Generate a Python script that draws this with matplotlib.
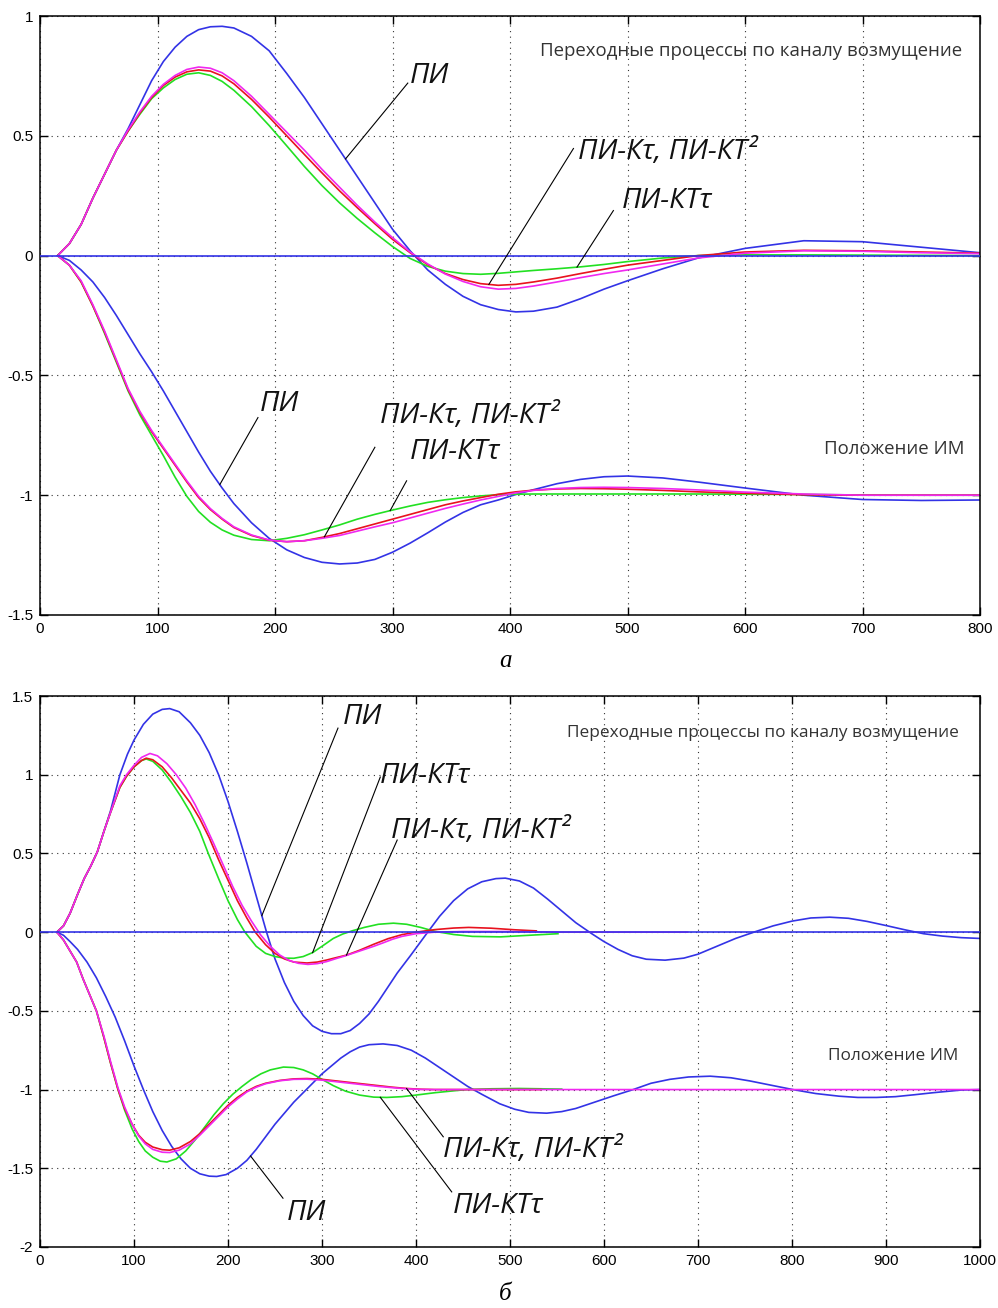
import numpy as np
import matplotlib
matplotlib.use("Agg")
import matplotlib.pyplot as plt

plt.rcParams['axes.unicode_minus'] = False

# ---- panel a: disturbance channel (upper group) ----
ta = [15, 25, 35, 45, 55, 65, 75, 85, 95, 105, 115, 125, 135, 145, 155, 165, 180, 195, 210, 225,
      240, 255, 270, 285, 300, 315, 330, 345, 360, 375, 390, 405, 420, 440, 460, 480, 500, 530, 560, 600,
      650, 700, 750, 800]

a_dist_pi = [0, 0.05, 0.13, 0.24, 0.34, 0.44, 0.53, 0.63, 0.73, 0.81, 0.87, 0.915, 0.943, 0.955, 0.957, 0.95, 0.915, 0.855, 0.76, 0.66,
             0.55, 0.44, 0.33, 0.22, 0.11, 0.02, -0.06, -0.12, -0.17, -0.205, -0.225, -0.235, -0.232, -0.215, -0.18, -0.14, -0.105, -0.055, -0.01, 0.03,
             0.062, 0.058, 0.035, 0.012]
a_dist_kt2 = [0, 0.05, 0.13, 0.24, 0.34, 0.44, 0.525, 0.60, 0.665, 0.715, 0.752, 0.777, 0.787, 0.782, 0.763, 0.73, 0.665, 0.59, 0.515, 0.44,
              0.36, 0.285, 0.21, 0.14, 0.075, 0.015, -0.035, -0.077, -0.108, -0.13, -0.14, -0.137, -0.127, -0.11, -0.092, -0.075, -0.06, -0.035, -0.01, 0.01,
              0.02, 0.018, 0.012, 0.008]
a_dist_ktau = [0, 0.05, 0.13, 0.24, 0.34, 0.44, 0.52, 0.595, 0.66, 0.71, 0.745, 0.767, 0.775, 0.77, 0.75, 0.717, 0.652, 0.578, 0.5, 0.422,
               0.345, 0.27, 0.2, 0.133, 0.068, 0.012, -0.038, -0.075, -0.1, -0.117, -0.124, -0.12, -0.11, -0.094, -0.075, -0.057, -0.04, -0.02, 0.0, 0.015,
               0.022, 0.02, 0.015, 0.01]
a_dist_kttau = [0, 0.05, 0.13, 0.24, 0.34, 0.44, 0.52, 0.59, 0.655, 0.70, 0.735, 0.757, 0.763, 0.752, 0.727, 0.69, 0.622, 0.543, 0.458, 0.372,
                0.292, 0.22, 0.155, 0.095, 0.038, -0.012, -0.045, -0.065, -0.075, -0.078, -0.074, -0.068, -0.062, -0.055, -0.047, -0.037, -0.025, -0.01, 0.0, 0.003,
                0.003, 0.002, 0.001, 0.0]

# ---- panel a: actuator position (lower group) ----
a_pos_pi = [0, -0.02, -0.06, -0.11, -0.175, -0.25, -0.33, -0.41, -0.485, -0.565, -0.65, -0.735, -0.82, -0.9, -0.97, -1.035, -1.115, -1.18, -1.228, -1.26,
            -1.28, -1.287, -1.283, -1.268, -1.238, -1.2, -1.157, -1.112, -1.072, -1.04, -1.02, -0.997, -0.977, -0.952, -0.934, -0.923, -0.92, -0.928, -0.945, -0.97,
            -1.0, -1.018, -1.022, -1.02]
a_pos_ktau = [0, -0.04, -0.11, -0.21, -0.32, -0.44, -0.56, -0.655, -0.735, -0.805, -0.875, -0.945, -1.01, -1.06, -1.1, -1.135, -1.168, -1.188, -1.194, -1.19,
              -1.176, -1.16, -1.14, -1.12, -1.1, -1.08, -1.06, -1.04, -1.024, -1.01, -0.996, -0.986, -0.979, -0.974, -0.972, -0.973, -0.975, -0.98, -0.986, -0.992,
              -0.998, -1.0, -1.0, -1.0]
a_pos_kt2 = [0, -0.04, -0.105, -0.205, -0.315, -0.435, -0.555, -0.65, -0.73, -0.8, -0.87, -0.94, -1.005, -1.056, -1.097, -1.132, -1.166, -1.187, -1.194, -1.19,
             -1.18, -1.168, -1.15, -1.132, -1.115, -1.095, -1.075, -1.055, -1.037, -1.02, -1.005, -0.99, -0.98, -0.972, -0.968, -0.967, -0.968, -0.972, -0.978, -0.987,
             -0.995, -1.0, -1.0, -1.0]
a_pos_kttau = [0, -0.04, -0.11, -0.21, -0.325, -0.445, -0.565, -0.665, -0.75, -0.835, -0.925, -1.005, -1.068, -1.113, -1.145, -1.167, -1.185, -1.19, -1.18, -1.165,
               -1.145, -1.124, -1.1, -1.08, -1.062, -1.045, -1.03, -1.019, -1.01, -1.003, -0.998, -0.996, -0.995, -0.995, -0.995, -0.995, -0.995, -0.995, -0.995, -0.996,
               -0.997, -0.999, -1.0, -1.0]

# ---- panel b: disturbance channel ----
tb_pi = [18, 25, 32, 40, 47, 54, 61, 68, 75, 85, 93, 100, 110, 120, 130, 138, 148, 160, 170, 180,
         190, 200, 210, 220, 230, 241, 250, 260, 270, 280, 290, 300, 310, 320, 330, 340, 350, 360, 370, 380,
         394, 410, 425, 440, 455, 470, 485, 495, 510, 525, 540, 555, 570, 587, 600, 615, 630, 645, 665, 685,
         700, 720, 740, 762, 780, 800, 820, 840, 860, 880, 900, 920, 940, 960, 980, 1000]
b_dist_pi = [0, 0.04, 0.12, 0.24, 0.34, 0.42, 0.51, 0.64, 0.77, 1.0, 1.13, 1.22, 1.32, 1.385, 1.415, 1.42, 1.40, 1.33, 1.25, 1.14,
             1.0, 0.83, 0.64, 0.44, 0.23, 0.0, -0.17, -0.32, -0.44, -0.53, -0.595, -0.63, -0.645, -0.645, -0.625, -0.58, -0.52, -0.44, -0.35, -0.26,
             -0.15, -0.02, 0.1, 0.2, 0.275, 0.32, 0.34, 0.343, 0.325, 0.28, 0.21, 0.135, 0.06, -0.01, -0.06, -0.11, -0.15, -0.172, -0.178, -0.165,
             -0.14, -0.09, -0.04, 0.005, 0.04, 0.07, 0.09, 0.095, 0.088, 0.068, 0.042, 0.015, -0.01, -0.025, -0.035, -0.04]

tb_kt2 = [18, 25, 32, 40, 47, 54, 61, 68, 75, 85, 92, 100, 108, 117, 125, 135, 145, 155, 165, 175,
          185, 195, 205, 215, 225, 235, 245, 255, 265, 275, 285, 295, 305, 315, 325, 335, 345, 355, 365, 375,
          385, 400, 420, 450, 500, 550, 600, 689]
b_dist_kt2 = [0, 0.04, 0.12, 0.24, 0.34, 0.42, 0.51, 0.64, 0.76, 0.93, 1.0, 1.06, 1.11, 1.135, 1.12, 1.07, 1.0, 0.915, 0.81, 0.69,
              0.56, 0.425, 0.29, 0.17, 0.07, -0.02, -0.09, -0.145, -0.18, -0.198, -0.205, -0.2, -0.187, -0.168, -0.15, -0.13, -0.11, -0.09, -0.068, -0.045,
              -0.027, -0.01, 0.0, 0.004, 0.004, 0.0, 0.0, 0.0]

tb_ktau = [18, 25, 32, 40, 47, 54, 61, 68, 75, 85, 92, 100, 108, 113, 120, 130, 140, 150, 160, 170,
           180, 190, 200, 210, 220, 229, 240, 250, 260, 270, 284, 295, 305, 315, 326, 340, 355, 370, 385, 400,
           420, 440, 456, 480, 505, 528]
b_dist_ktau = [0, 0.04, 0.12, 0.24, 0.34, 0.42, 0.51, 0.64, 0.76, 0.92, 0.99, 1.05, 1.09, 1.105, 1.095, 1.05, 0.98, 0.9, 0.82, 0.72,
               0.6, 0.46, 0.33, 0.2, 0.09, 0.0, -0.08, -0.135, -0.17, -0.19, -0.196, -0.19, -0.177, -0.162, -0.146, -0.115, -0.077, -0.042, -0.016, 0.0,
               0.016, 0.026, 0.03, 0.025, 0.015, 0.008]

tb_kttau = [18, 25, 32, 40, 47, 54, 61, 68, 75, 85, 92, 100, 108, 113, 120, 130, 140, 150, 160, 170,
            179, 190, 200, 210, 218, 230, 240, 250, 260, 270, 280, 290, 300, 312, 322, 333, 345, 360, 376, 390,
            405, 420, 440, 460, 490, 520, 551]
b_dist_kttau = [0, 0.04, 0.12, 0.24, 0.34, 0.42, 0.51, 0.64, 0.76, 0.92, 0.99, 1.05, 1.09, 1.1, 1.085, 1.03, 0.95, 0.86, 0.76, 0.64,
                0.5, 0.34, 0.2, 0.08, 0.0, -0.09, -0.135, -0.155, -0.165, -0.166, -0.155, -0.13, -0.09, -0.04, -0.012, 0.01, 0.03, 0.05, 0.057, 0.05,
                0.03, 0.005, -0.015, -0.027, -0.03, -0.02, -0.01]

# ---- panel b: actuator position ----
tbp_pi = [18, 25, 32, 40, 50, 60, 70, 80, 90, 100, 110, 120, 130, 140, 150, 160, 170, 180, 188, 198,
          210, 220, 230, 240, 250, 260, 270, 280, 290, 300, 310, 320, 330, 340, 350, 365, 380, 395, 410, 425,
          440, 455, 470, 489, 505, 520, 539, 555, 570, 590, 610, 631, 650, 670, 690, 713, 735, 755, 780, 801,
          825, 850, 870, 890, 910, 930, 950, 980, 1000]
b_pos_pi = [0, -0.02, -0.06, -0.11, -0.19, -0.29, -0.41, -0.54, -0.69, -0.85, -1.0, -1.14, -1.26, -1.36, -1.44, -1.5, -1.535, -1.55, -1.552, -1.54,
            -1.5, -1.45, -1.38, -1.3, -1.22, -1.15, -1.08, -1.02, -0.96, -0.9, -0.85, -0.8, -0.76, -0.73, -0.715, -0.71, -0.72, -0.75, -0.8, -0.86,
            -0.92, -0.98, -1.03, -1.09, -1.125, -1.145, -1.15, -1.14, -1.12, -1.08, -1.04, -1.0, -0.96, -0.935, -0.92, -0.915, -0.925, -0.945, -0.975, -1.0,
            -1.025, -1.042, -1.05, -1.05, -1.045, -1.033, -1.02, -1.003, -1.0]

tbp_ktau = [18, 25, 32, 39, 46, 53, 60, 68, 75, 83, 90, 98, 105, 112, 120, 130, 138, 148, 160, 170,
            180, 190, 200, 210, 220, 230, 240, 255, 270, 284, 300, 315, 330, 345, 360, 375, 390, 405, 420, 533]
b_pos_ktau = [0, -0.05, -0.12, -0.19, -0.3, -0.4, -0.5, -0.67, -0.83, -1.0, -1.12, -1.22, -1.29, -1.335, -1.365, -1.382, -1.385, -1.37, -1.33, -1.28,
              -1.22, -1.16, -1.1, -1.05, -1.01, -0.98, -0.96, -0.942, -0.932, -0.93, -0.935, -0.945, -0.955, -0.965, -0.975, -0.985, -0.993, -0.998, -1.0, -1.0]

tbp_kt2 = [18, 25, 32, 39, 46, 53, 60, 68, 75, 83, 90, 98, 105, 112, 120, 130, 138, 148, 160, 170,
           180, 190, 200, 210, 220, 230, 240, 255, 270, 284, 300, 315, 330, 345, 360, 375, 390, 405, 420, 1000]
b_pos_kt2 = [0, -0.05, -0.12, -0.19, -0.3, -0.4, -0.5, -0.66, -0.82, -0.99, -1.11, -1.22, -1.295, -1.345, -1.38, -1.398, -1.4, -1.385, -1.345, -1.29,
             -1.23, -1.17, -1.11, -1.06, -1.015, -0.985, -0.963, -0.944, -0.935, -0.934, -0.94, -0.95, -0.96, -0.97, -0.98, -0.988, -0.995, -0.999, -1.0, -1.0]

tbp_kttau = [18, 25, 32, 39, 46, 53, 60, 68, 75, 83, 90, 98, 105, 112, 120, 128, 135, 145, 155, 165,
             175, 185, 195, 205, 215, 225, 235, 245, 259, 270, 280, 290, 300, 312, 325, 340, 355, 369, 385, 400,
             420, 440, 454, 480, 510, 555]
b_pos_kttau = [0, -0.05, -0.12, -0.19, -0.3, -0.4, -0.5, -0.67, -0.83, -1.0, -1.13, -1.25, -1.33, -1.39, -1.43, -1.455, -1.46, -1.44, -1.39, -1.32,
               -1.24, -1.16, -1.09, -1.03, -0.98, -0.935, -0.9, -0.875, -0.857, -0.86, -0.875, -0.9, -0.935, -0.975, -1.01, -1.035, -1.048, -1.05, -1.045, -1.035,
               -1.02, -1.008, -1.0, -0.995, -0.993, -0.997]

yticks_a = [-1.5, -1, -0.5, 0, 0.5, 1]
yticks_b = [-2, -1.5, -1, -0.5, 0, 0.5, 1, 1.5]
xticks_a = [0, 100, 200, 300, 400, 500, 600, 700, 800]
xticks_b = [0, 100, 200, 300, 400, 500, 600, 700, 800, 900, 1000]

BLUE = '#3333e6'
GREEN = '#22e022'
RED = '#e8121e'
MAG = '#f028f0'

LBL = "ПИ-Кτ, ПИ-КТ²"
LBL2 = "ПИ-КТτ"
ital = dict(family=['Open Sans', 'DejaVu Sans'], style='italic', fontsize=20.5, color='#111111')
plain = dict(family=['Open Sans', 'DejaVu Sans'], color='#333333')


def fmt(v):
    return ('%g' % v)


def setup(ax, xt, yt, xmax, ymin, ymax):
    ax.set_xlim(0, xmax)
    ax.set_ylim(ymin, ymax)
    ax.set_xticks(xt)
    ax.set_yticks(yt)
    ax.set_xticklabels([fmt(v) for v in xt])
    ax.set_yticklabels([fmt(v) for v in yt])
    ax.tick_params(direction='in', length=6, width=1, top=True, right=True,
                   labelsize=11, pad=5, colors='black')
    for lab in ax.get_xticklabels() + ax.get_yticklabels():
        lab.set_family('Liberation Sans')
    ax.grid(True, color='#333333', linestyle=(0, (1, 4)), linewidth=0.8)
    for s in ax.spines.values():
        s.set_linewidth(1.1)


def leader(ax, t, v, t0, end, text, tpos):
    y0 = np.interp(t0, t, v)
    ax.plot([t0, end[0]], [y0, end[1]], color='black', lw=0.8, zorder=4)
    ax.text(tpos[0], tpos[1], text, ha='left', va='baseline', zorder=5, **ital)


fig = plt.figure(figsize=(9.98, 13.08), dpi=100)

# ---------- panel a ----------
ax1 = fig.add_axes([40 / 998, 1 - 615 / 1308, 940 / 998, 599 / 1308])
setup(ax1, xticks_a, yticks_a, 800, -1.5, 1)
for v, c in [(a_dist_pi, BLUE), (a_dist_kttau, GREEN), (a_dist_ktau, RED), (a_dist_kt2, MAG),
             (a_pos_pi, BLUE), (a_pos_kttau, GREEN), (a_pos_ktau, RED), (a_pos_kt2, MAG)]:
    ax1.plot(ta, v, color=c, lw=1.2)
ax1.plot([0, 800], [0, 0], color=BLUE, lw=1.2, zorder=3)

leader(ax1, ta, a_dist_pi, 260, (313, 0.72), "ПИ", (315, 0.72))
leader(ax1, ta, a_dist_ktau, 382, (454, 0.447), LBL, (458, 0.405))
leader(ax1, ta, a_dist_kttau, 457, (488, 0.188), LBL2, (495, 0.20))
leader(ax1, ta, a_pos_pi, 153, (185.5, -0.676), "ПИ", (187, -0.65))
leader(ax1, ta, a_pos_ktau, 242, (285, -0.80), LBL, (289, -0.70))
leader(ax1, ta, a_pos_kttau, 298, (312, -0.94), LBL2, (315, -0.85))

ax1.text(785, 0.856, "Переходные процессы по каналу возмущение", ha='right', va='center',
         fontsize=13.4, **plain)
ax1.text(787, -0.806, "Положение ИМ", ha='right', va='center', fontsize=13.4, **plain)

# ---------- panel b ----------
ax2 = fig.add_axes([40 / 998, 1 - 1247 / 1308, 940 / 998, 551 / 1308])
setup(ax2, xticks_b, yticks_b, 1000, -2, 1.5)
for t, v, c in [(tb_pi, b_dist_pi, BLUE), (tb_kttau, b_dist_kttau, GREEN), (tb_ktau, b_dist_ktau, RED),
                (tb_kt2, b_dist_kt2, MAG), (tbp_pi, b_pos_pi, BLUE), (tbp_kttau, b_pos_kttau, GREEN),
                (tbp_ktau, b_pos_ktau, RED), (tbp_kt2, b_pos_kt2, MAG)]:
    ax2.plot(t, v, color=c, lw=1.2)
ax2.plot([0, 1000], [0, 0], color=BLUE, lw=1.2, zorder=3)

leader(ax2, tb_pi, b_dist_pi, 236, (317, 1.296), "ПИ", (322, 1.32))
leader(ax2, tb_kttau, b_dist_kttau, 290, (362, 0.985), LBL2, (361, 0.95))
leader(ax2, tb_ktau, b_dist_ktau, 326, (380, 0.585), LBL, (373, 0.60))
leader(ax2, tbp_pi, b_pos_pi, 224, (258.5, -1.69), "ПИ", (263, -1.83))
leader(ax2, tbp_ktau, b_pos_ktau, 390, (429, -1.30), LBL, (429, -1.43))
leader(ax2, tbp_kttau, b_pos_kttau, 362, (438, -1.65), LBL2, (439, -1.785))

ax2.text(978, 1.264, "Переходные процессы по каналу возмущение", ha='right', va='center',
         fontsize=12.4, **plain)
ax2.text(977, -0.788, "Положение ИМ", ha='right', va='center', fontsize=12.4, **plain)

# captions
cap = dict(family='Liberation Serif', style='italic', fontsize=18, ha='center', va='center')
fig.text(505 / 998, 1 - 661 / 1308, "а", **cap)
fig.text(505 / 998, 1 - 1294 / 1308, "б", **cap)

fig.savefig("out.png", dpi=100, facecolor='white')
